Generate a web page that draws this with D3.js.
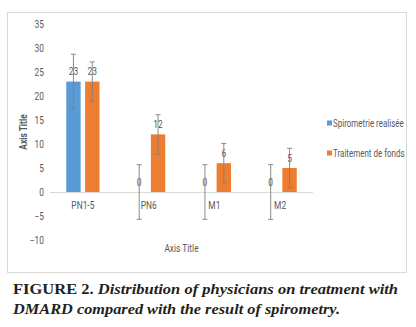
<!DOCTYPE html>
<html>
<head>
<meta charset="utf-8">
<script src="https://cdn.jsdelivr.net/npm/d3@7"></script>
<style>
  html, body { margin: 0; padding: 0; background: #fff; }
  svg { display: block; }
  .lbl { font-family: "Liberation Sans Narrow", "Roboto", "Liberation Sans", sans-serif; fill: #595959; }
  .cap { font-family: "Liberation Serif", "DejaVu Serif", serif; fill: #231f20; font-weight: bold; }
</style>
</head>
<body>
<script>
// Chart data
const categories = ["PN1-5", "PN6", "M1", "M2"];
const seriesNames = ["Spirometrie realisée", "Traitement de fonds"];
const spirometrie = [23, 0, 0, 0];
const traitement = [23, 12, 6, 5];
const spirometrieErr = [5.7, 5.7, 5.7, 5.7];
const traitementErr = [4.1, 4.1, 4.1, 4.1];
const yTicks = [-10, -5, 0, 5, 10, 15, 20, 25, 30, 35];
const colors = ["#5b9bd5", "#ed7d31"];

const W = 416, H = 327;
const NARROW = 0.8; // horizontal squeeze for the chart's condensed labels
const svg = d3.select("body").append("svg").attr("width", W).attr("height", H);

// place a text at (px, py) squeezed horizontally
function condensed(sel, px, py) {
  return sel.attr("x", 0).attr("y", 0)
    .attr("transform", (d, i, n) => {
      const X = typeof px === "function" ? px(d, i, n) : px;
      const Y = typeof py === "function" ? py(d, i, n) : py;
      return `translate(${X},${Y}) scale(${NARROW},1)`;
    });
}

// chart frame
svg.append("rect").attr("x", 7.5).attr("y", 12.5).attr("width", 399).attr("height", 260)
  .attr("fill", "#fff").attr("stroke", "#d9d9d9").attr("stroke-width", 1);

const y = d3.scaleLinear().domain([-10, 35]).range([240, 24]);
const x = d3.scaleBand().domain(categories).range([50, 313]).paddingInner(0).paddingOuter(0);
const xs = d3.scaleBand().domain(seriesNames).range([0, x.bandwidth()])
  .paddingInner(0.237).paddingOuter(0.862);

// y tick labels
const yAxis = d3.axisLeft(y).tickValues(yTicks).tickSize(0).tickPadding(0);
const gy = svg.append("g").attr("transform", "translate(44,0)").call(yAxis);
gy.select(".domain").remove();
gy.selectAll("text").attr("font-size", 10.5).attr("fill", "#595959")
  .attr("transform", `scale(${NARROW},1)`)
  .style("font-family", '"Liberation Sans Narrow", "Roboto", sans-serif');

// zero baseline
svg.append("line").attr("x1", 50).attr("x2", 313).attr("y1", y(0) + 0.5).attr("y2", y(0) + 0.5)
  .attr("stroke", "#d9d9d9").attr("stroke-width", 1);

// category labels
const gx = svg.append("g").attr("transform", `translate(0,${y(0)})`)
  .call(d3.axisBottom(x).tickSize(0).tickPadding(10));
gx.select(".domain").remove();
gx.selectAll("text").attr("font-size", 10.5).attr("fill", "#595959")
  .attr("transform", `scale(${NARROW},1)`)
  .style("font-family", '"Liberation Sans Narrow", "Roboto", sans-serif');

const series = [
  { name: seriesNames[0], values: spirometrie, err: spirometrieErr, color: colors[0] },
  { name: seriesNames[1], values: traitement, err: traitementErr, color: colors[1] }
];

series.forEach(s => {
  const g = svg.append("g");
  const rows = categories.map((c, i) => ({ c, v: s.values[i], e: s.err[i] }));
  const cx = d => x(d.c) + xs(s.name) + xs.bandwidth() / 2;
  g.selectAll("rect").data(rows).join("rect")
    .attr("x", d => x(d.c) + xs(s.name))
    .attr("width", xs.bandwidth())
    .attr("y", d => y(Math.max(0, d.v)))
    .attr("height", d => Math.abs(y(d.v) - y(0)))
    .attr("fill", s.color);
  // value labels
  condensed(g.selectAll("text").data(rows).join("text").attr("class", "lbl")
    .attr("text-anchor", "middle").attr("font-size", 10.5).text(d => d.v),
    cx, d => y(d.v) - 6.5);
  // error bars
  const eb = g.selectAll("g.err").data(rows).join("g").attr("class", "err")
    .attr("stroke", "#7f7f7f").attr("stroke-width", 0.9);
  eb.append("line").attr("x1", cx).attr("x2", cx)
    .attr("y1", d => y(d.v + d.e)).attr("y2", d => y(d.v - d.e));
  eb.append("line").attr("x1", d => cx(d) - 2.5).attr("x2", d => cx(d) + 2.5)
    .attr("y1", d => y(d.v + d.e)).attr("y2", d => y(d.v + d.e));
  eb.append("line").attr("x1", d => cx(d) - 2.5).attr("x2", d => cx(d) + 2.5)
    .attr("y1", d => y(d.v - d.e)).attr("y2", d => y(d.v - d.e));
});

// axis titles
condensed(svg.append("text").attr("class", "lbl").attr("text-anchor", "middle")
  .attr("font-size", 10.5).text("Axis Title"), 181.5, 252);
svg.append("text").attr("class", "lbl")
  .attr("transform", `translate(27,${(y(-10) + y(35)) / 2}) rotate(-90) scale(${NARROW},1)`)
  .attr("text-anchor", "middle").attr("font-size", 10.5).attr("font-weight", "bold")
  .text("Axis Title");

// legend
const lg = svg.append("g");
series.forEach((s, i) => {
  const ly = 123 + i * 30;
  lg.append("rect").attr("x", 327).attr("y", ly - 2.5).attr("width", 5).attr("height", 5).attr("fill", s.color);
  condensed(lg.append("text").attr("class", "lbl").attr("font-size", 10).text(s.name), 333, ly + 3.5);
});

// caption
const c1 = svg.append("text").attr("class", "cap").attr("x", 13).attr("y", 294)
  .attr("font-size", 15).attr("textLength", 385).attr("lengthAdjust", "spacingAndGlyphs");
c1.append("tspan").text("FIGURE 2. ");
c1.append("tspan").attr("font-style", "italic").text("Distribution of physicians on treatment with");
svg.append("text").attr("class", "cap").attr("x", 13).attr("y", 314)
  .attr("font-size", 15).attr("font-style", "italic")
  .attr("textLength", 327).attr("lengthAdjust", "spacingAndGlyphs")
  .text("DMARD compared with the result of spirometry.");
</script>
</body>
</html>
